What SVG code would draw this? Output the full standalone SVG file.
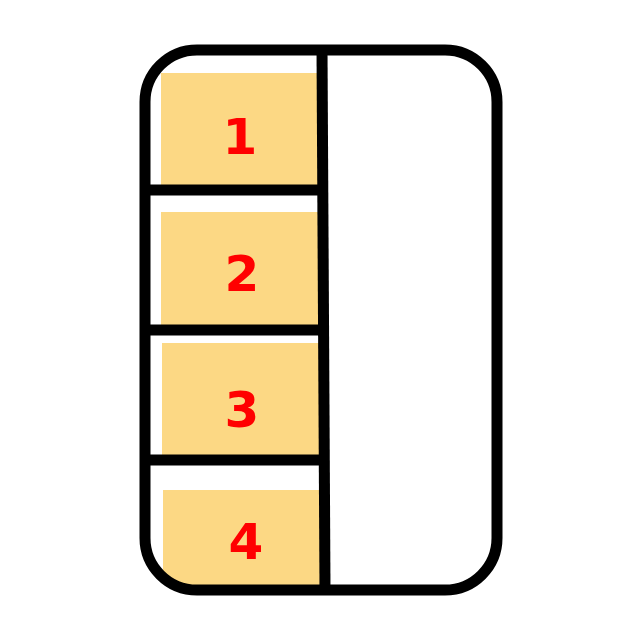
<svg xmlns="http://www.w3.org/2000/svg" width="640" height="640" viewBox="0 0 640 640">
<style>
.cell{fill:#fcd884}
.ln{stroke:#000;stroke-width:11;fill:none;stroke-linecap:butt}
.num{font-family:"DejaVu Sans",sans-serif;font-weight:bold;font-size:50px;fill:#ff0000;text-anchor:middle}
</style>
<defs>
<clipPath id="card"><rect x="145" y="50" width="352" height="540" rx="52" ry="52"/></clipPath>
</defs>
<rect width="640" height="640" fill="#fff"/>
<g clip-path="url(#card)">
<g id="cell1"><rect class="cell" x="161" y="73" width="158" height="113"/><text class="num" x="240" y="154">1</text></g>
<g id="cell2"><rect class="cell" x="161" y="212" width="158" height="113"/><text class="num" x="242" y="291">2</text></g>
<g id="cell3"><rect class="cell" x="162" y="343" width="158" height="113"/><text class="num" x="242" y="427">3</text></g>
<g id="cell4"><rect class="cell" x="163" y="490" width="158" height="100"/><text class="num" x="246" y="559">4</text></g>
</g>
<g id="connectors">
<rect class="ln" x="145" y="50" width="352" height="540" rx="52" ry="52"/>
<line class="ln" x1="322" y1="50" x2="325" y2="590"/>
<line class="ln" x1="145" y1="190" x2="323" y2="190"/>
<line class="ln" x1="145" y1="330" x2="324" y2="330"/>
<line class="ln" x1="145" y1="460" x2="324" y2="460"/>
</g>
</svg>
